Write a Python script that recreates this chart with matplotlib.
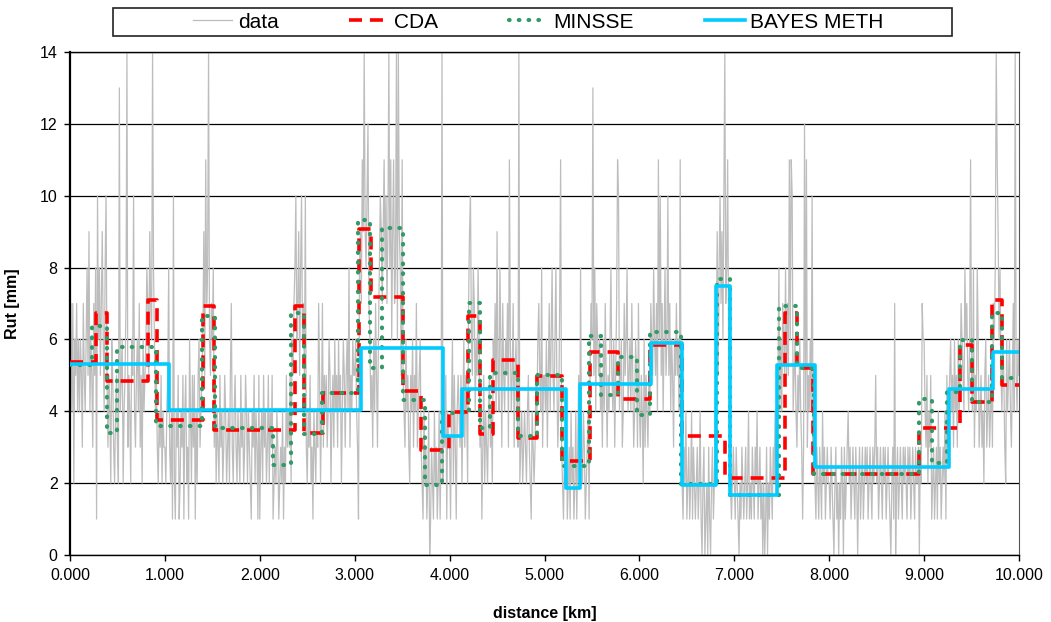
import numpy as np
import matplotlib
matplotlib.use("Agg")
import matplotlib.pyplot as plt
from matplotlib.patches import Rectangle

plt.rcParams["font.family"] = ["Liberation Sans", "DejaVu Sans"]

# raw rut readings every 10 m, one hex digit per reading (e = 14 mm)
data_km0 = "5747265746 4653754685 946537581a 68579648a5 3542653245 32d4562457 e354265a43 5647352645 6875976e86 4532435243"
data_km1 = "324583241a 2143512435 1452316425 3514256345 695b78e657 6835243253 4235423425 7324532432 5342354243 2143524315"
data_km2 = "1342534235 2435123243 1232413253 43526578a6 7958a675a3 2435231432 4375247354 5346524536 4536452465 3564835465"
data_km3 = "56431897b9 e98ac76453 6475368a97 9b8a79e8b6 9b78e6e985 b543645325 4635473456 3214231240 1321423124 13e2435143"
data_km4 = "3146253145 4352463542 79a6587465 8634135243 2453426574 9548637546 573b645735 643e234234 3245321432 3546754835"
data_km5 = "5463574685 4685347b32 1324123142 3124135283 2431234157 6d58476564 5364753546 8546357ba4 5634756845 6475346537"
data_km6 = "4354263543 5476586574 b6a5746856 a574653657 564b321324 1231241321 2312410230 1203102312 46958a796a e78b632123"
data_km7 = "2132102132 1231241213 2132412312 0201302132 1324235846 47658575b6 ba45643546 4313c4b354 64a3521321 3214231232"
data_km8 = "2132102312 0213203123 4231232132 0231231232 3123213235 2312321323 1232102317 0231232132 3213231232 1322303276"
data_km9 = "6435243512 3123142312 3241534564 5364536457 654867546b 5483548634 5342563453 453768eb96 8546532645 643574e546"
data_last = "5"

# segmentations: segment boundaries [km] and segment means [mm]
cda_edges = [0, 0.274, 0.387, 0.825, 0.913, 1.405, 1.517, 2.371, 2.466, 2.669,
             3.049, 3.168, 3.506, 3.695, 3.997, 4.197, 4.32, 4.461, 4.724, 4.925,
             5.181, 5.479, 5.778, 6.112, 6.446, 6.90, 7.534, 7.657, 7.832, 8.95,
             9.378, 9.50, 9.72, 9.82, 10.0]
cda_levels = [5.36, 6.73, 4.83, 7.10, 3.76, 6.92, 3.48, 6.92, 3.39, 4.50,
              9.08, 7.17, 4.57, 2.92, 3.97, 6.64, 3.36, 5.43, 3.27, 4.97,
              2.62, 5.66, 4.35, 5.85, 3.32, 2.14, 6.73, 5.20, 2.25, 3.53,
              5.85, 4.27, 7.10, 4.74]

minsse_edges = [0, 0.228, 0.39, 0.498, 0.906, 1.388, 1.528, 2.142, 2.33, 2.47,
                2.652, 3.04, 3.161, 3.285, 3.512, 3.741, 3.917, 4.2, 4.32, 4.426,
                4.72, 4.917, 5.181, 5.474, 5.60, 5.778, 5.97, 6.112, 6.44, 6.814,
                6.955, 7.47, 7.657, 7.84, 8.95, 9.08, 9.245, 9.38, 9.50, 9.72,
                9.82, 10.0]
minsse_levels = [5.30, 6.38, 3.39, 5.78, 3.58, 6.66, 3.53, 2.51, 6.73, 3.36,
                 4.50, 9.33, 5.20, 9.10, 4.32, 1.95, 3.95, 7.01, 3.53, 5.06,
                 3.30, 5.02, 2.48, 6.10, 4.46, 5.52, 3.90, 6.22, 1.98, 7.68,
                 1.67, 6.92, 5.20, 2.25, 4.34, 2.55, 4.55, 5.99, 4.27, 6.73,
                 4.92]

bayes_edges = [0, 1.046, 3.063, 3.927, 4.127, 5.226, 5.374, 6.122, 6.446, 6.804,
               6.955, 7.453, 7.853, 9.266, 9.723, 10.0]
bayes_levels = [5.32, 4.04, 5.76, 3.32, 4.63, 1.875, 4.77, 5.91, 1.95, 7.49,
                1.67, 5.28, 2.46, 4.63, 5.64]

x_ticks = [0, 1, 2, 3, 4, 5, 6, 7, 8, 9, 10]
y_ticks = [0, 2, 4, 6, 8, 10, 12, 14]


def decode(chunks):
    """Turns the hex strings into a list of rut values."""
    text = "".join(chunks).replace(" ", "")
    return [int(c, 16) for c in text]


def step_line(ax, edges, levels, **kw):
    """Draws a segment-mean series as a step line."""
    return ax.step(edges, list(levels) + [levels[-1]], where="post", **kw)[0]


def create_plot(output_file):
    rut = decode([data_km0, data_km1, data_km2, data_km3, data_km4,
                  data_km5, data_km6, data_km7, data_km8, data_km9, data_last])
    dist = np.arange(len(rut)) * 0.01

    fig = plt.figure(figsize=(10.51, 6.22), dpi=100)
    ax = fig.add_axes([70 / 1051, 1 - 555 / 622, 949 / 1051, 503 / 622])

    h_data, = ax.plot(dist, rut, color="#bdbdbd", lw=0.9, zorder=2)
    h_cda = step_line(ax, cda_edges, cda_levels, color="#ff0000", lw=2.6,
                      linestyle=(0, (3.6, 2.2)), zorder=3)
    h_min = step_line(ax, minsse_edges, minsse_levels, color="#339966", lw=3.0,
                      linestyle=(0, (0.15, 2.2)), dash_capstyle="round",
                      zorder=4)
    h_bay = step_line(ax, bayes_edges, bayes_levels, color="#00ccff", lw=2.6,
                      zorder=5)

    ax.set_xlim(0, 10)
    ax.set_ylim(0, 14)
    ax.set_xticks(x_ticks)
    ax.set_xticklabels(["%.3f" % v for v in x_ticks])
    ax.set_yticks(y_ticks)
    ax.tick_params(direction="out", length=4, width=1, labelsize=11.5, pad=5,
                   colors="black")
    ax.grid(axis="y", color="black", lw=0.9)
    ax.set_axisbelow(True)

    ax.spines["left"].set_linewidth(1.6)
    ax.spines["bottom"].set_linewidth(1.0)
    ax.spines["top"].set_linewidth(1.0)
    ax.spines["right"].set_linewidth(0.8)
    ax.spines["right"].set_color("#555555")

    ax.set_xlabel("distance [km]", fontsize=11.5, fontweight="bold")
    ax.set_ylabel("Rut [mm]", fontsize=11.5, fontweight="bold")
    ax.xaxis.set_label_coords(0.5, (555 - 606) / 503)
    ax.yaxis.set_label_coords((20 - 70) / 949, 0.5)

    fig.add_artist(Rectangle((113 / 1051, 1 - 36 / 622), 839 / 1051, 28 / 622,
                             transform=fig.transFigure, fill=False,
                             edgecolor="#222222", lw=1.2))
    fig.legend([h_data, h_cda, h_min, h_bay],
               ["data", "CDA", "MINSSE", "BAYES METH"],
               loc="center", bbox_to_anchor=(538 / 1051, 1 - 22 / 622),
               ncol=4, frameon=False, fontsize=15, handlelength=1.9,
               handletextpad=0.25, columnspacing=3.4, borderpad=0.1)

    fig.savefig(output_file, dpi=100)
    plt.close(fig)


create_plot("out.png")
